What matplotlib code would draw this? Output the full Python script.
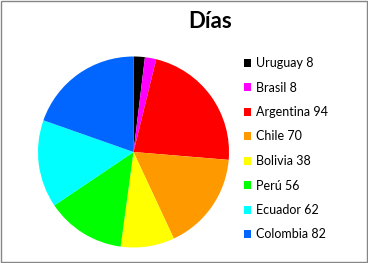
import matplotlib.pyplot as plt
from matplotlib.patches import Rectangle

# datos
paises = ['Uruguay', 'Brasil', 'Argentina', 'Chile', 'Bolivia', 'Perú', 'Ecuador', 'Colombia']
dias = [8, 8, 94, 70, 38, 56, 62, 82]
colores = ['#000000', '#FF00FF', '#FF0000', '#FF9900', '#FFFF00', '#00FF00', '#00FFFF', '#0066FF']

plt.rcParams['font.family'] = ['Lato', 'DejaVu Sans']

fig = plt.figure(figsize=(3.68, 2.63), dpi=100)

# borde gris del grafico
fig.patches.append(Rectangle((0.003, 0.004), 0.994, 0.992, transform=fig.transFigure,
                             fill=False, edgecolor='#868686', linewidth=1))

ax = fig.add_axes([38 / 368, 15.5 / 263, 191 / 368, 191 / 263])
wedges, _ = ax.pie(dias, colors=colores, startangle=90, counterclock=False)
ax.set_xlim(-1, 1)
ax.set_ylim(-1, 1)
ax.set_aspect('equal')

etiquetas = [p + ' ' + str(d) for p, d in zip(paises, dias)]
fig.legend(wedges, etiquetas, loc='upper left', bbox_to_anchor=(244 / 368, 1 - 57 / 263),
           frameon=False, fontsize=9, handlelength=0.6, handleheight=0.6,
           handletextpad=0.35, labelspacing=1.0, borderaxespad=0, borderpad=0)

fig.text(210 / 368, 1 - 22 / 263, 'Días', ha='center', va='center',
         fontsize=16, fontweight='bold')

fig.savefig('out.png', dpi=100)
